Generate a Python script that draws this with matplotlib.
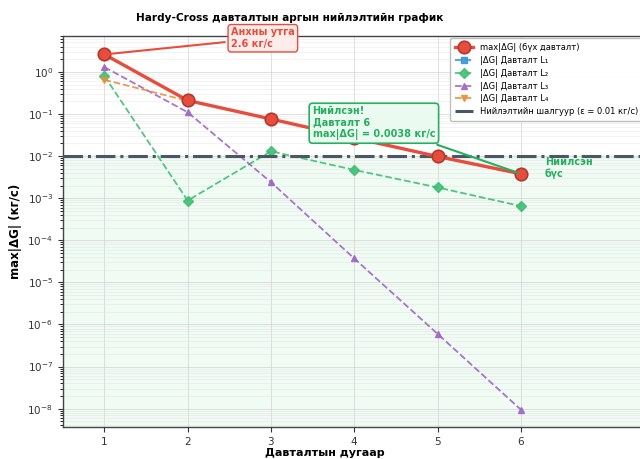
import matplotlib
matplotlib.use("Agg")
import matplotlib.pyplot as plt
from matplotlib.ticker import NullFormatter

# iteration numbers and |dG| per loop (kg/s)
iterations = [1, 2, 3, 4, 5, 6]
max_dg = [2.6, 0.21, 0.076, 0.027, 0.0098, 0.0038]
loop_l1 = [2.6, 0.21, 0.076, 0.027, 0.0098, 0.0038]
loop_l2 = [0.8, 0.00088, 0.013, 0.0047, 0.0018, 0.00065]
loop_l3 = [1.3, 0.11, 0.0024, 3.7e-5, 6.0e-7, 9.5e-9]
loop_l4 = [0.65, 0.205, 0.075, 0.027, 0.0097, 0.0037]
tolerance = 0.01

loop_series = [
    ("|ΔG| Давталт L₁", loop_l1, "#3498db", "s"),
    ("|ΔG| Давталт L₂", loop_l2, "#3fbf74", "D"),
    ("|ΔG| Давталт L₃", loop_l3, "#a066c4", "^"),
    ("|ΔG| Давталт L₄", loop_l4, "#e8913a", "v"),
]

fig = plt.figure(figsize=(6.4, 4.59), dpi=100)
ax = fig.add_axes([0.098, 0.07, 0.911, 0.852])

ax.set_yscale("log")
ax.set_xlim(0.5, 7.5)
ax.set_ylim(3.7e-9, 7.2)

# shaded converged region
ax.axhspan(3.7e-9, tolerance, color="#2ecc71", alpha=0.07, zorder=0)

ax.plot(iterations, max_dg, color="#e74c3c", linewidth=2.4, marker="o",
        markersize=9, markerfacecolor="#e74c3c", markeredgecolor="#b03a2e",
        markeredgewidth=1.2, label="max|ΔG| (бүх давталт)", zorder=5)

for name, vals, col, mk in loop_series:
    ax.plot(iterations, vals, color=col, linestyle="--", linewidth=1.3,
            marker=mk, markersize=5, label=name, alpha=0.9, zorder=3)

ax.axhline(tolerance, color="#4a5866", linestyle="-.", linewidth=2.2,
           label="Нийлэлтийн шалгуур (ε = 0.01 кг/с)", zorder=4)

ax.annotate("Анхны утга\n2.6 кг/с", xy=(iterations[0], max_dg[0]),
            xytext=(2.52, 6.3), fontsize=7, fontweight="bold", color="#e74c3c",
            ha="left", va="center", annotation_clip=False,
            bbox=dict(boxstyle="round,pad=0.3", fc="#fdecea", ec="#e74c3c", lw=1),
            arrowprops=dict(arrowstyle="-", color="#e74c3c", lw=1.5), zorder=6)

ax.annotate("Нийлсэн!\nДавталт 6\nmax|ΔG| = 0.0038 кг/с",
            xy=(iterations[-1], max_dg[-1]), xytext=(3.5, 0.062),
            fontsize=7, fontweight="bold", color="#27ae60",
            ha="left", va="center",
            bbox=dict(boxstyle="round,pad=0.35", fc="#eafaf1", ec="#27ae60", lw=1.2),
            arrowprops=dict(arrowstyle="-", color="#27ae60", lw=1.5), zorder=6)

ax.text(6.29, 0.0052, "Нийлсэн\nбүс", fontsize=7, fontweight="bold",
        color="#27ae60", ha="left", va="center")

ax.set_title("Hardy-Cross давталтын аргын нийлэлтийн график",
             fontsize=7.6, fontweight="bold", pad=11, x=0.389)
ax.set_xlabel("Давталтын дугаар", fontsize=8, fontweight="bold", labelpad=5)
ax.xaxis.set_label_coords(0.449, -0.055)
ax.set_ylabel("max|ΔG| (кг/с)", fontsize=8.5, fontweight="bold")
ax.set_xticks(iterations)
ax.yaxis.set_minor_formatter(NullFormatter())
ax.tick_params(labelsize=7.5, colors="#333333")

ax.grid(True, which="major", color="#cccccc", alpha=0.6, linewidth=0.7)
ax.grid(True, which="minor", axis="y", color="#dddddd", alpha=0.5, linewidth=0.5)
for sp in ax.spines.values():
    sp.set_color("#444444")
    sp.set_linewidth(1.0)

leg = ax.legend(loc="upper right", fontsize=6, frameon=True, borderpad=0.6,
                handlelength=2.2, labelspacing=0.45, borderaxespad=0.3)
leg.get_frame().set_edgecolor("#bbbbbb")
leg.get_frame().set_alpha(0.95)

fig.savefig("out.png", dpi=100)
